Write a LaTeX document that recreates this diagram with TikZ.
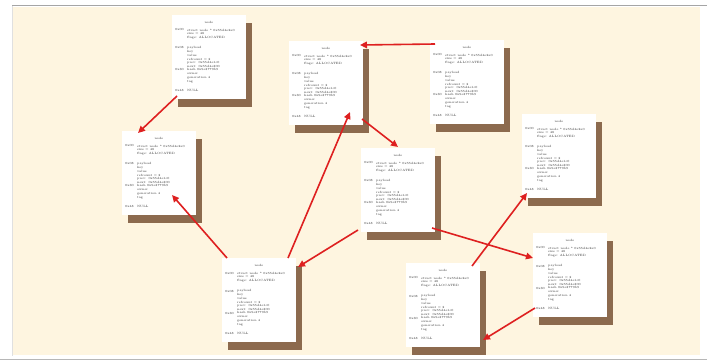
\documentclass[tikz,border=0pt]{standalone}
\usetikzlibrary{arrows.meta,calc}
\definecolor{cream}{RGB}{254,245,224}
\definecolor{shadowbrown}{RGB}{140,106,78}
\definecolor{arrowred}{RGB}{222,32,32}
\definecolor{frameg}{RGB}{165,165,165}
\tikzset{
  paper/.style={fill=white, draw=none, minimum width=74pt, minimum height=84pt, inner sep=0pt, outer sep=0pt},
  tinytext/.style={font=\fontsize{3.1}{3.7}\selectfont, text=black!80, inner sep=0pt, align=left},
  link/.style={draw=arrowred, line width=1.6pt, -{Triangle[length=7pt,width=6.5pt]}},
}
\newcommand\memcard[4]{%
  \fill[shadowbrown] (#2+6,#3+8) rectangle ++(74,84);
  \node[paper, anchor=north west] (#1) at (#2,#3) {};
  \node[tinytext, anchor=center] (#1-t) at (#2+37,#3+7) {#4};
  \node[tinytext, anchor=west] (#1-a) at (#2+3,#3+15) {0x00};
  \node[tinytext, anchor=north west] (#1-av) at (#2+15,#3+13.6) {struct node * 0x55d4e2a0\\size = 48\\flags: ALLOCATED};
  \node[tinytext, anchor=west] (#1-b) at (#2+3,#3+33) {0x08};
  \node[tinytext, anchor=north west] (#1-bv) at (#2+15,#3+31.6) {payload\\key\\value\\refcount = 2\\prev: 0x55d4e1c0\\next: 0x55d4e300};
  \node[tinytext, anchor=west] (#1-c) at (#2+3,#3+55) {0x30};
  \node[tinytext, anchor=north west] (#1-cv) at (#2+15,#3+53.6) {hash 0x9e3779b9\\owner\\generation 4\\tag};
  \node[tinytext, anchor=west] (#1-d) at (#2+3,#3+75) {0x48};
  \node[tinytext, anchor=west] (#1-dv) at (#2+15,#3+75) {NULL};
}
\begin{document}
\begin{tikzpicture}[x=1pt,y=-1pt]
  \useasboundingbox (0,0) rectangle (707,361);
  \fill[white] (0,0) rectangle (707,361);
  \fill[cream] (13,7) rectangle (700,355);
  \draw[frameg, line width=1.5pt] (12,5.5) -- (707,5.5);
  \draw[black!12, line width=1pt] (12.5,6) -- (12.5,356);
  \draw[frameg!80, line width=1.2pt] (0,359.6) -- (707,359.6);

  \memcard{A}{172}{15}{node}
  \memcard{B}{289}{41}{node}
  \memcard{C}{430}{40}{node}
  \memcard{D}{122}{131}{node}
  \memcard{E}{361}{148}{node}
  \memcard{F}{522}{114}{node}
  \memcard{G}{222}{258}{node}
  \memcard{H}{406}{263}{node}
  \memcard{I}{533}{233}{node}

  \draw[link] ($(A.south west)+(5,-3)$) -- ($(D.north west)+(16,2)$);
  \draw[link] ($(C.north west)+(5,4)$) -- ($(B.north east)+(-3,4)$);
  \draw[link] ($(B.south east)+(-1,-6)$) -- ($(E.north west)+(37,-1)$);
  \draw[link] ($(G.north east)+(-8,0)$) -- ($(B.south west)+(61,-13)$);
  \draw[link] ($(G.north west)+(5,0)$) -- ($(D.south west)+(50,-20)$);
  \draw[link] ($(E.south west)+(-3,-2)$) -- ($(G.north east)+(2,9)$);
  \draw[link] ($(E.south east)+(-3,-4)$) -- ($(I.north west)+(0,25)$);
  \draw[link] ($(H.north east)+(-8,3)$) -- ($(F.south west)+(5,-5)$);
  \draw[link] ($(I.south west)+(2,-9)$) -- ($(H.south east)+(3,-7)$);
\end{tikzpicture}
\end{document}
